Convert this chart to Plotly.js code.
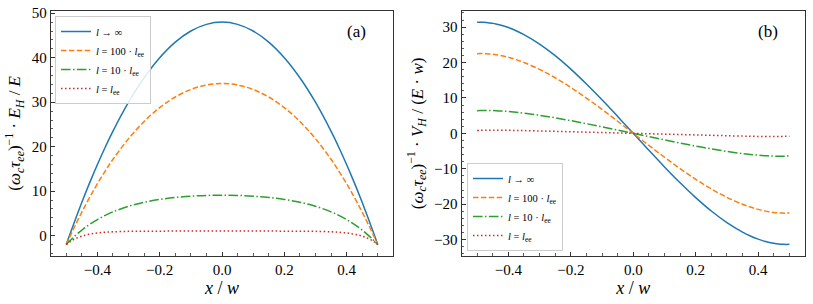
<!DOCTYPE html>
<html>
<head>
<meta charset="utf-8">
<script src="https://cdn.plot.ly/plotly-3.0.1.min.js"></script>
<style>html,body{margin:0;padding:0;background:#fff;}#plot{width:813px;height:304px;}</style>
</head>
<body>
<div id="plot"></div>
<script>
// Positions x / w (shared by all curves)
const xs = [-0.5,-0.49,-0.48,-0.47,-0.46,-0.45,-0.44,-0.42,-0.4,-0.375,-0.35,-0.3,-0.25,-0.2,-0.15,-0.1,-0.05,0,
            0.05,0.1,0.15,0.2,0.25,0.3,0.35,0.375,0.4,0.42,0.44,0.45,0.46,0.47,0.48,0.49,0.5];

// Panel (a): (w_c tau_ee)^-1 E_H / E
const EH_inf = [-2.0,-0.02,1.92,3.82,5.68,7.5,9.28,12.72,16.0,19.88,23.5,30.0,35.5,40.0,43.5,46.0,47.5,48.0,
                47.5,46.0,43.5,40.0,35.5,30.0,23.5,19.88,16.0,12.72,9.28,7.5,5.68,3.82,1.92,-0.02,-2.0];
const EH_100 = [-2.0,-0.46,1.04,2.51,3.93,5.31,6.66,9.24,11.69,14.53,17.17,21.81,25.67,28.78,31.17,32.85,33.86,34.2,
                33.86,32.85,31.17,28.78,25.67,21.81,17.17,14.53,11.69,9.24,6.66,5.31,3.93,2.51,1.04,-0.46,-2.0];
const EH_10  = [-2.0,-1.26,-0.57,0.08,0.69,1.26,1.8,2.77,3.63,4.56,5.36,6.61,7.51,8.15,8.59,8.88,9.04,9.09,
                9.04,8.88,8.59,8.15,7.51,6.61,5.36,4.56,3.63,2.77,1.8,1.26,0.69,0.08,-0.57,-1.26,-2.0];
const EH_1   = [-2.0,-1.46,-1.01,-0.65,-0.35,-0.1,0.1,0.4,0.61,0.77,0.87,0.97,1.01,1.02,1.03,1.03,1.03,1.03,
                1.03,1.03,1.03,1.02,1.01,0.97,0.87,0.77,0.61,0.4,0.1,-0.1,-0.35,-0.65,-1.01,-1.46,-2.0];

// Panel (b): (w_c tau_ee)^-1 V_H / (E w)
const VH_inf = [31.33,31.35,31.33,31.28,31.18,31.05,30.88,30.44,29.87,28.97,27.88,25.2,21.92,18.13,13.95,9.47,4.78,0,
                -4.78,-9.47,-13.95,-18.13,-21.92,-25.2,-27.88,-28.97,-29.87,-30.44,-30.88,-31.05,-31.18,-31.28,-31.33,-31.35,-31.33];
const VH_100 = [22.5,22.52,22.52,22.48,22.42,22.33,22.21,21.89,21.47,20.81,20.02,18.06,15.69,12.96,9.95,6.75,3.41,0,
                -3.41,-6.75,-9.95,-12.96,-15.69,-18.06,-20.02,-20.81,-21.47,-21.89,-22.21,-22.33,-22.42,-22.48,-22.52,-22.52,-22.5];
const VH_10  = [6.4,6.43,6.45,6.46,6.45,6.43,6.4,6.31,6.17,5.96,5.71,5.1,4.38,3.58,2.73,1.84,0.93,0,
                -0.93,-1.84,-2.73,-3.58,-4.38,-5.1,-5.71,-5.96,-6.17,-6.31,-6.4,-6.43,-6.45,-6.46,-6.45,-6.43,-6.4];
const VH_1   = [0.8,0.84,0.86,0.88,0.89,0.89,0.89,0.88,0.86,0.82,0.78,0.67,0.56,0.45,0.34,0.23,0.11,0,
                -0.11,-0.23,-0.34,-0.45,-0.56,-0.67,-0.78,-0.82,-0.86,-0.88,-0.89,-0.89,-0.89,-0.88,-0.86,-0.84,-0.8];

const names = ['<i>l</i> → ∞', '<i>l</i> = 100 · <i>l</i><sub>ee</sub>', '<i>l</i> = 10 · <i>l</i><sub>ee</sub>', '<i>l</i> = <i>l</i><sub>ee</sub>'];
const colors = ['#1f77b4', '#ff7f0e', '#2ca02c', '#d62728'];
const dashes = ['solid', '5.5px,2.4px', '9.6px,2.4px,1.5px,2.4px', '1.5px,2.5px'];

const seriesA = [EH_inf, EH_100, EH_10, EH_1];
const seriesB = [VH_inf, VH_100, VH_10, VH_1];

const traces = [];
seriesA.forEach((ys, i) => traces.push({
  x: xs, y: ys, xaxis: 'x', yaxis: 'y', name: names[i], legend: 'legend', mode: 'lines',
  line: {color: colors[i], width: 1.5, dash: dashes[i], shape: 'spline', smoothing: 1}
}));
seriesB.forEach((ys, i) => traces.push({
  x: xs, y: ys, xaxis: 'x2', yaxis: 'y2', name: names[i], legend: 'legend2', mode: 'lines',
  line: {color: colors[i], width: 1.5, dash: dashes[i], shape: 'spline', smoothing: 1}
}));

const W = 813, H = 304;
const serif = 'Liberation Serif';
const ydom = [1 - 255.7 / H, 1 - 11 / H];

function xax(dom, anchor) {
  return {
    domain: dom, anchor: anchor, range: [-0.55, 0.55], dtick: 0.2, tick0: 0, tickformat: '.1f',
    ticks: 'inside', ticklen: 4, tickwidth: 1, tickcolor: '#333',
    minor: {dtick: 0.05, tick0: 0, ticks: 'inside', ticklen: 2.5, tickwidth: 0.8, tickcolor: '#333', showgrid: false},
    showline: true, mirror: true, linecolor: '#333', linewidth: 1, showgrid: false, zeroline: false,
    tickfont: {family: serif, size: 15, color: '#000'}, automargin: false,
    title: {text: '<i>x</i> / <i>w</i>', font: {family: serif, size: 18, color: '#000'}, standoff: 0}
  };
}
function yax(dom, anchor, range, dtick, title, standoff) {
  return {
    domain: dom, anchor: anchor, range: range, dtick: dtick, tick0: 0,
    ticks: 'inside', ticklen: 4, tickwidth: 1, tickcolor: '#333',
    minor: {dtick: 2, tick0: 0, ticks: 'inside', ticklen: 2.5, tickwidth: 0.8, tickcolor: '#333', showgrid: false},
    showline: true, mirror: true, linecolor: '#333', linewidth: 1, showgrid: false, zeroline: false,
    tickfont: {family: serif, size: 15, color: '#000'}, automargin: false,
    title: {text: title, font: {family: serif, size: 17, color: '#000'}, standoff: standoff}
  };
}

const legendBase = {
  bgcolor: 'rgba(255,255,255,0.85)', bordercolor: '#cccccc', borderwidth: 1,
  font: {family: serif, size: 10.5, color: '#000'}, itemwidth: 30, tracegroupgap: 0
};

const layout = {
  width: W, height: H, margin: {l: 0, r: 0, t: 0, b: 0},
  paper_bgcolor: '#fff', plot_bgcolor: '#fff', showlegend: true,
  xaxis: xax([50.7 / W, 393.3 / W], 'y'),
  yaxis: yax(ydom, 'x', [-4.5, 50.5], 10, '(<i>ω<sub>c</sub>τ<sub>ee</sub></i>)<sup>−1</sup> · <i>E<sub>H</sub></i> / <i>E</i>', 6),
  xaxis2: xax([461.5 / W, 805 / W], 'y2'),
  yaxis2: yax(ydom, 'x2', [-34.54, 34.54], 10, '(<i>ω<sub>c</sub>τ<sub>ee</sub></i>)<sup>−1</sup> · <i>V<sub>H</sub></i> / (<i>E</i> · <i>w</i>)', 6),
  legend: Object.assign({x: 55 / W, y: 1 - 16 / H, xanchor: 'left', yanchor: 'top'}, legendBase),
  legend2: Object.assign({x: 467 / W, y: 1 - 251 / H, xanchor: 'left', yanchor: 'bottom'}, legendBase),
  annotations: [
    {text: '(a)', x: 356 / W, y: 1 - 31 / H, xref: 'paper', yref: 'paper', showarrow: false,
     xanchor: 'center', yanchor: 'middle', font: {family: serif, size: 17, color: '#000'}},
    {text: '(b)', x: 768 / W, y: 1 - 31 / H, xref: 'paper', yref: 'paper', showarrow: false,
     xanchor: 'center', yanchor: 'middle', font: {family: serif, size: 17, color: '#000'}}
  ]
};

Plotly.newPlot('plot', traces, layout, {staticPlot: true, displayModeBar: false});
</script>
</body>
</html>
